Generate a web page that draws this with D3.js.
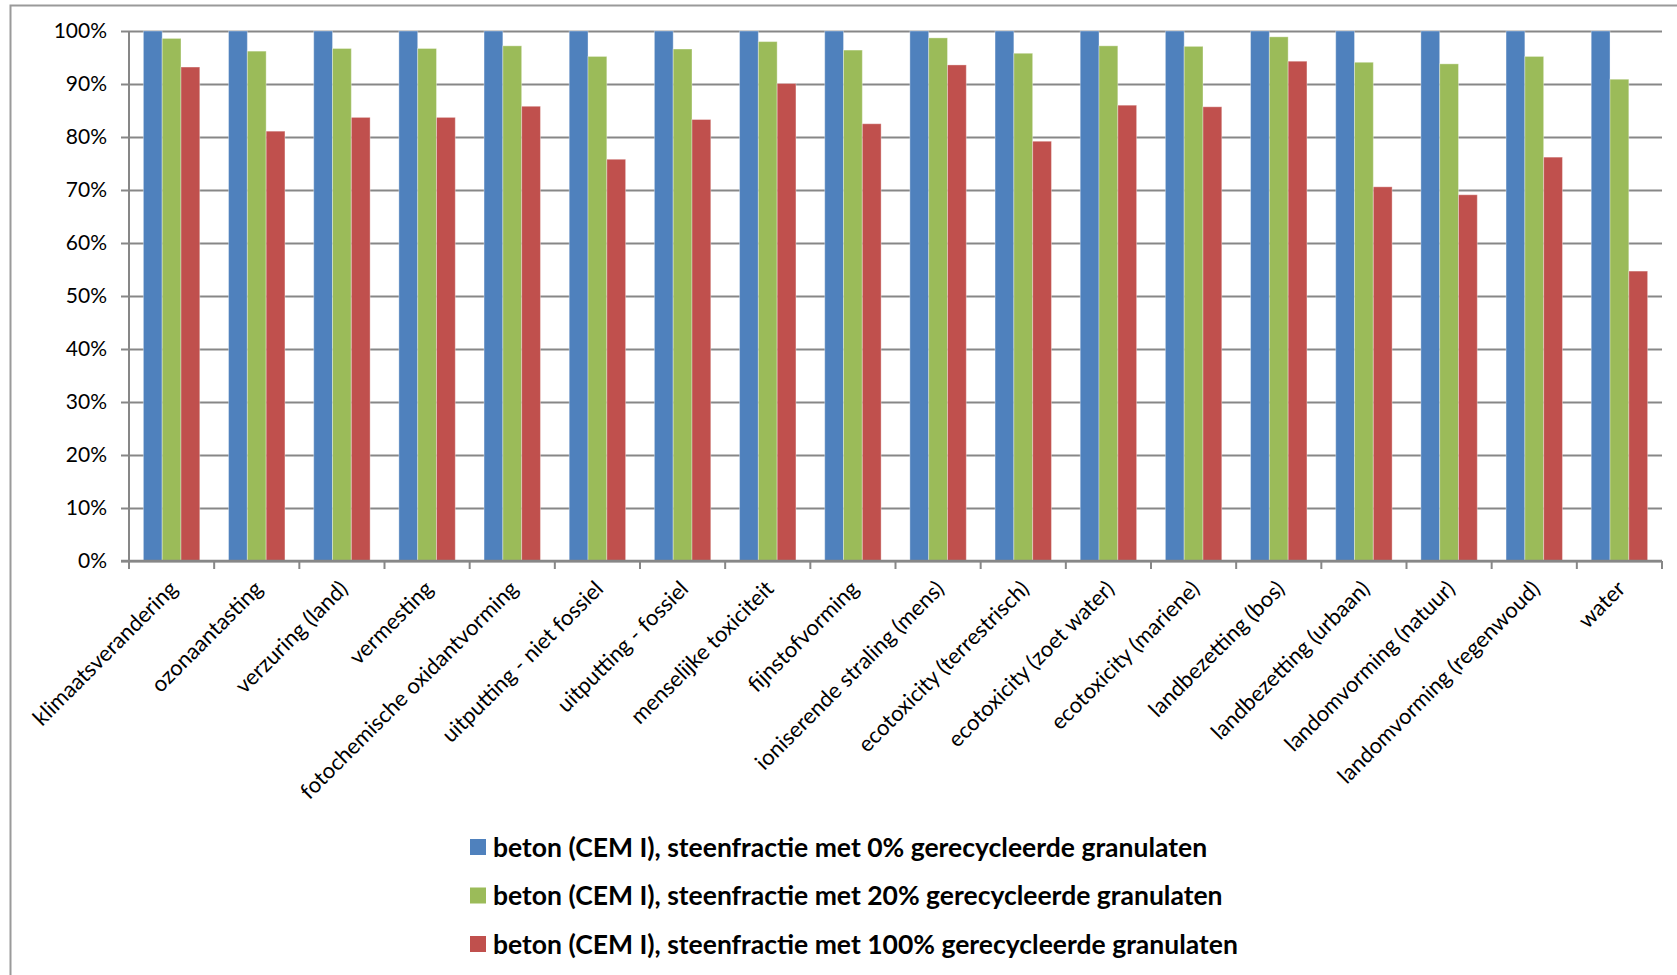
<!DOCTYPE html>
<html>
<head>
<meta charset="utf-8">
<script src="https://cdn.jsdelivr.net/npm/d3@7/dist/d3.min.js"></script>
<style>
  html, body { margin: 0; padding: 0; background: #fff; }
  svg { display: block; }
  text { font-family: Lato, "Open Sans", sans-serif; fill: #000; }
</style>
</head>
<body>
<svg id="chart" width="1677" height="975"></svg>
<script>
// Impact categories (x axis)
const categories = [
  "klimaatsverandering",
  "ozonaantasting",
  "verzuring (land)",
  "vermesting",
  "fotochemische oxidantvorming",
  "uitputting - niet fossiel",
  "uitputting - fossiel",
  "menselijke toxiciteit",
  "fijnstofvorming",
  "ioniserende straling (mens)",
  "ecotoxicity (terrestrisch)",
  "ecotoxicity (zoet water)",
  "ecotoxicity (mariene)",
  "landbezetting (bos)",
  "landbezetting (urbaan)",
  "landomvorming (natuur)",
  "landomvorming (regenwoud)",
  "water"
];

// Series names
const seriesNames = [
  "beton (CEM I), steenfractie met 0% gerecycleerde granulaten",
  "beton (CEM I), steenfractie met 20% gerecycleerde granulaten",
  "beton (CEM I), steenfractie met 100% gerecycleerde granulaten"
];

// Relative scores (fraction of the reference mix)
const values0 = [1, 1, 1, 1, 1, 1, 1, 1, 1, 1, 1, 1, 1, 1, 1, 1, 1, 1];
const values20 = [0.986, 0.962, 0.967, 0.967, 0.972, 0.952, 0.966, 0.980, 0.964,
                  0.987, 0.958, 0.972, 0.971, 0.989, 0.941, 0.938, 0.952, 0.909];
const values100 = [0.932, 0.811, 0.837, 0.837, 0.858, 0.758, 0.833, 0.901, 0.825,
                   0.936, 0.792, 0.860, 0.857, 0.943, 0.706, 0.691, 0.762, 0.547];

// Y axis ticks
const yTicks = [0, 0.1, 0.2, 0.3, 0.4, 0.5, 0.6, 0.7, 0.8, 0.9, 1.0];

const seriesColors = ["#4F81BD", "#9BBB59", "#C0504D"];
const seriesValues = [values0, values20, values100];

const svg = d3.select("#chart");

// Outer chart-area frame
svg.append("path")
  .attr("d", "M10.5,985 V5.5 H1690")
  .attr("fill", "none")
  .attr("stroke", "#9a9a9a")
  .attr("stroke-width", 2);

const plot = { left: 129, right: 1662, top: 31, bottom: 561 };

const x0 = d3.scaleBand().domain(categories).range([plot.left, plot.right]).padding(0);
const x1 = d3.scaleBand().domain(d3.range(seriesNames.length))
  .range([0, x0.bandwidth()]).paddingInner(0).paddingOuter(0.765);
const y = d3.scaleLinear().domain([0, 1]).range([plot.bottom, plot.top]);

const gridColor = "#878787";

// Horizontal gridlines with tick labels
const yAxis = d3.axisLeft(y)
  .tickValues(yTicks)
  .tickFormat(d3.format(".0%"))
  .tickSize(-(plot.right - plot.left))
  .tickSizeOuter(0)
  .tickPadding(14);

const gy = svg.append("g")
  .attr("transform", `translate(${plot.left},0)`)
  .call(yAxis);
gy.select(".domain").remove();
gy.selectAll(".tick line")
  .attr("x1", -8)
  .attr("stroke", gridColor)
  .attr("stroke-width", 2);
gy.selectAll(".tick text")
  .attr("x", -22)
  .attr("font-size", 21)
  .attr("font-family", "Lato, sans-serif");

// Bars
const groups = svg.append("g")
  .selectAll("g")
  .data(categories)
  .join("g")
  .attr("transform", d => `translate(${x0(d)},0)`);

groups.selectAll("rect")
  .data((d, i) => seriesValues.map((vals, s) => ({ s, v: vals[i] })))
  .join("rect")
  .attr("x", d => x1(d.s))
  .attr("width", x1.bandwidth())
  .attr("y", d => y(d.v))
  .attr("height", d => y(0) - y(d.v))
  .attr("fill", d => seriesColors[d.s])
  .attr("stroke", "rgba(255,255,255,0.35)")
  .attr("stroke-width", 1);

// Vertical axis line
svg.append("line")
  .attr("x1", plot.left).attr("x2", plot.left)
  .attr("y1", plot.top).attr("y2", plot.bottom + 8)
  .attr("stroke", gridColor).attr("stroke-width", 2);

// Category axis: baseline and boundary ticks
const gx = svg.append("g");
gx.append("line")
  .attr("x1", plot.left - 8).attr("x2", plot.right)
  .attr("y1", plot.bottom).attr("y2", plot.bottom)
  .attr("stroke", gridColor).attr("stroke-width", 2.5);
const boundaries = categories.map(c => x0(c)).concat([plot.right]);
gx.selectAll("line.tk")
  .data(boundaries)
  .join("line")
  .attr("class", "tk")
  .attr("x1", d => d).attr("x2", d => d)
  .attr("y1", plot.bottom).attr("y2", plot.bottom + 8)
  .attr("stroke", gridColor).attr("stroke-width", 2);

// Rotated category labels
gx.selectAll("text")
  .data(categories)
  .join("text")
  .attr("transform", d => `translate(${x0(d) + x0.bandwidth() / 2 - 4},579) rotate(-45)`)
  .attr("text-anchor", "end")
  .attr("dy", "0.72em")
  .attr("font-size", 22)
  .text(d => d);

// Legend
const legend = svg.append("g").attr("transform", "translate(470,0)");
const rows = legend.selectAll("g")
  .data(seriesNames)
  .join("g")
  .attr("transform", (d, i) => `translate(0,${847 + i * 48.5})`);
rows.append("rect")
  .attr("x", 0).attr("y", -8)
  .attr("width", 16).attr("height", 16)
  .attr("fill", (d, i) => seriesColors[i]);
rows.append("text")
  .attr("x", 23)
  .attr("dy", "0.36em")
  .attr("font-size", 26.5)
  .attr("font-weight", "bold")
  .text(d => d);
</script>
</body>
</html>
